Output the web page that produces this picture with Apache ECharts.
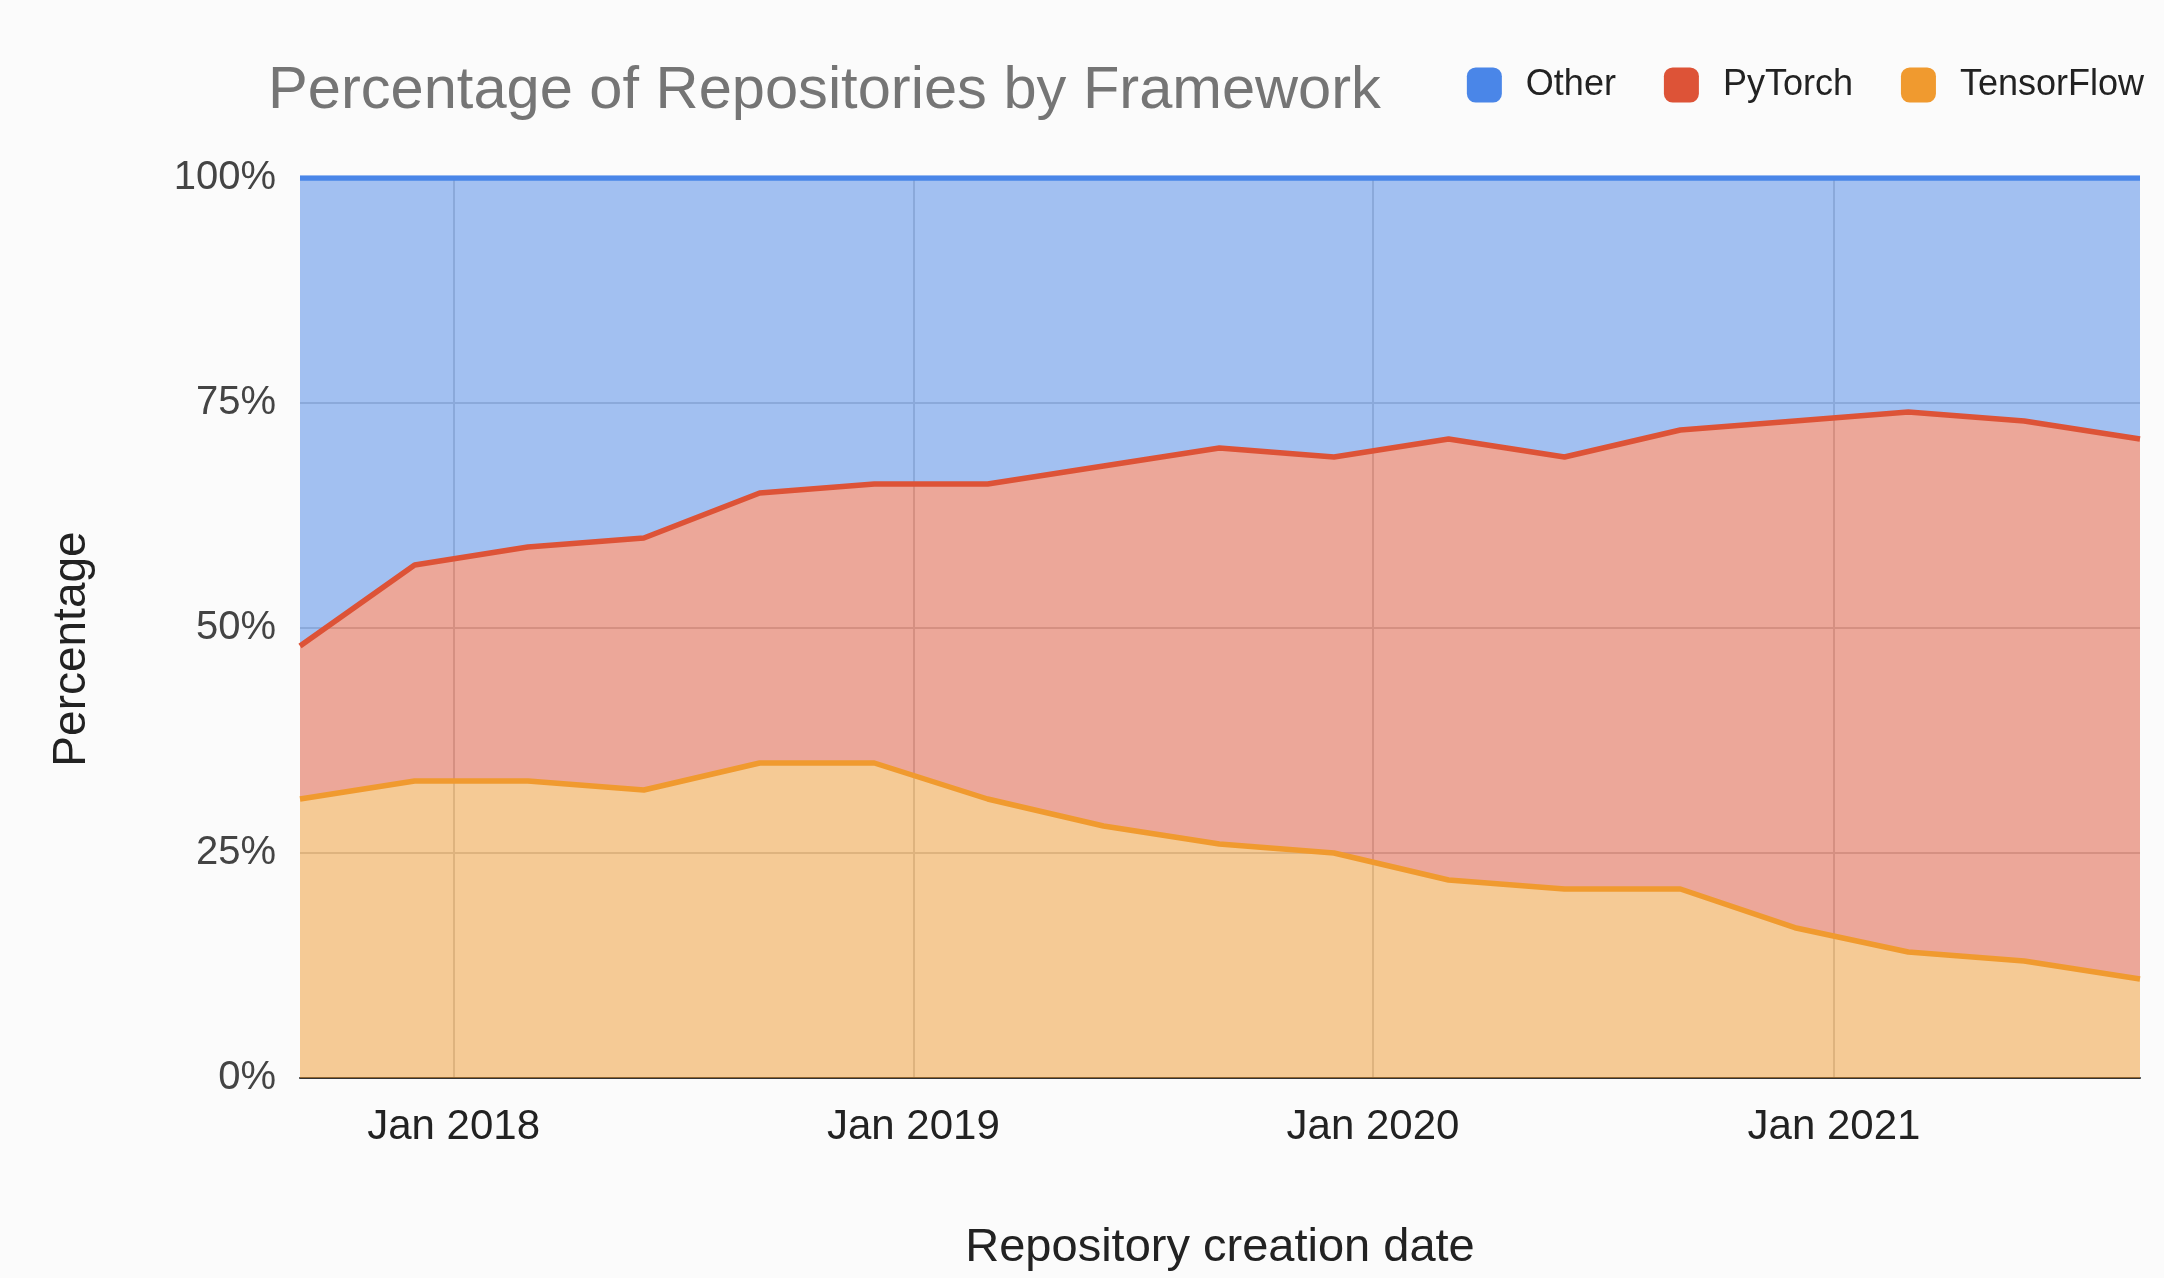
<!DOCTYPE html>
<html>
<head>
<meta charset="utf-8">
<script src="https://cdn.jsdelivr.net/npm/echarts@6/dist/echarts.min.js"></script>
<style>
html,body{margin:0;padding:0;background:#fbfbfb;}
#chart{width:2164px;height:1278px;}
</style>
</head>
<body>
<div id="chart"></div>
<script>
const dates = ['2017-09-01','2017-12-01','2018-03-01','2018-06-01','2018-09-01','2018-12-01','2019-03-01','2019-06-01','2019-09-01','2019-12-01','2020-03-01','2020-06-01','2020-09-01','2020-12-01','2021-03-01','2021-06-01','2021-09-01'];
const tensorflow = [31,33,33,32,35,35,31,28,26,25,22,21,21,16.7,14,13,11];
const pytorch = [17,24,26,28,30,31,35,40,44,44,49,48,51,56.3,60,60,60];
const other = [52,43,41,40,35,34,34,32,30,31,29,31,28,27,26,27,29];
const yTicks = [0,25,50,75,100];

const FONT = '"Liberation Sans", Arial, sans-serif';
const colors = {Other:'#4a86e8', PyTorch:'#dd5337', TensorFlow:'#f09a2f'};

function mk(name, vals){
  return {
    name: name, type:'line', stack:'total', symbol:'none',
    data: dates.map((d,i)=>[d, vals[i]]),
    lineStyle:{width:5.5, color:colors[name]},
    itemStyle:{color:colors[name]},
    areaStyle:{color:colors[name], opacity:0.5},
    z: 2
  };
}

const chart = echarts.init(document.getElementById('chart'));
chart.setOption({
  backgroundColor:'#fbfbfb',
  animation:false,
  title:{
    text:'Percentage of Repositories by Framework',
    left:263, top:57,
    textStyle:{fontFamily:FONT, fontSize:59.6, fontWeight:'normal', color:'#757575'}
  },
  legend:{
    data:['Other','PyTorch','TensorFlow'],
    right:15, top:62,
    icon:'roundRect', itemWidth:35, itemHeight:35, itemGap:48,
    textStyle:{fontFamily:FONT, fontSize:36, color:'#222', padding:[0,0,0,19]}
  },
  grid:{left:300, right:24, top:178, height:900},
  xAxis:{
    type:'time',
    min:'2017-09-01', max:'2021-09-01',
    minInterval: 365*24*3600*1000, maxInterval: 366*24*3600*1000,
    name:'Repository creation date', nameLocation:'middle', nameGap:147,
    nameTextStyle:{fontFamily:FONT, fontSize:47, color:'#222'},
    axisLine:{show:true, lineStyle:{color:'#333', width:2}},
    axisTick:{show:false},
    axisLabel:{fontFamily:FONT, fontSize:42, color:'#222', margin:28,
      showMinLabel:false, showMaxLabel:false,
      formatter:function(v){const d=new Date(v); return (d.getMonth()===0)?('Jan '+d.getFullYear()):'';}},
    splitLine:{show:true, showMinLine:false, showMaxLine:false, lineStyle:{color:'#cccccc', width:2}}
  },
  yAxis:{
    type:'value', min:0, max:100, interval:25,
    name:'Percentage', nameLocation:'middle', nameGap:205, nameRotate:90,
    nameTextStyle:{fontFamily:FONT, fontSize:46, color:'#222', padding:[0,42,0,0]},
    axisLine:{show:false}, axisTick:{show:false},
    axisLabel:{fontFamily:FONT, fontSize:40, color:'#444', margin:24,
      formatter:function(v){return yTicks.indexOf(v)>=0 ? v+'%' : '';}},
    splitLine:{show:true, lineStyle:{color:'#cccccc', width:2}}
  },
  series:[mk('TensorFlow', tensorflow), mk('PyTorch', pytorch), mk('Other', other)]
});
</script>
</body>
</html>
